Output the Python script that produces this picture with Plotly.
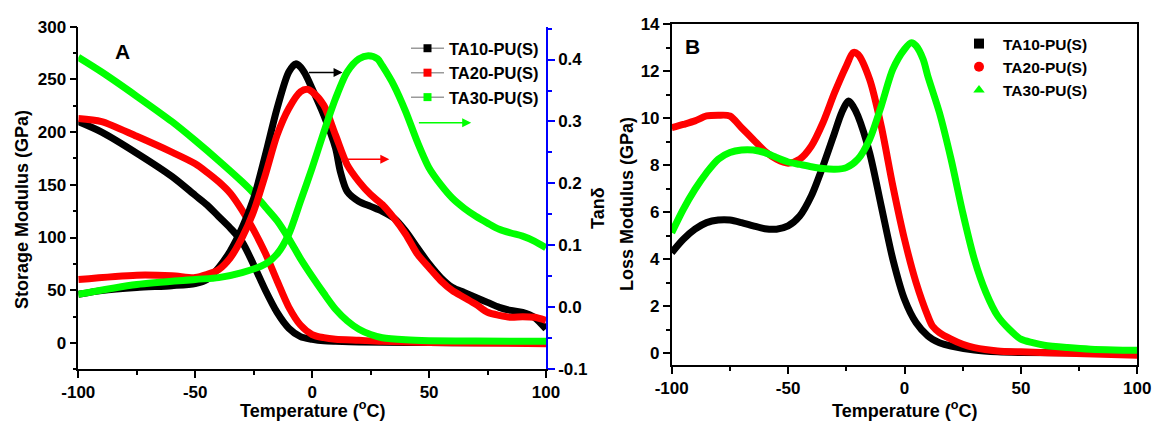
import plotly.graph_objects as go

W, H = 1153, 421

# ---------------- Data: panel A (storage modulus, left axis) ----------------
names = ["TA10-PU(S)", "TA20-PU(S)", "TA30-PU(S)"]
colors = ["#000000", "#ff0000", "#00ff00"]

ta10_sm_T = [-100, -90, -75, -60, -50, -45, -40, -35, -30, -25, -20, -15, -10, -5, 0, 5, 10, 20, 40, 60, 80, 100]
ta10_sm = [210, 200, 180, 158, 140, 131, 120, 109, 96, 74, 50, 29, 14, 6, 3.5, 2, 1.5, 1, 0.5, 0.3, 0.2, 0.2]

ta20_sm_T = [-100, -90, -75, -60, -50, -45, -40, -35, -30, -25, -20, -15, -10, -5, 0, 5, 10, 20, 30, 50, 70, 100]
ta20_sm = [213, 210, 196, 181, 170, 162, 153, 142, 126, 107, 85, 59, 34, 17, 8, 5, 3.5, 2.5, 1.5, 0.5, 0, -0.8]

ta30_sm_T = [-100, -90, -75, -60, -50, -40, -30, -25, -20, -15, -10, -5, 0, 5, 10, 15, 20, 25, 30, 40, 50, 70, 100]
ta30_sm = [271, 257, 234, 210, 192, 173, 153, 142, 129, 116, 99, 80, 63, 47, 32, 21, 13, 8, 5, 3, 2.2, 1.8, 1.5]

# ---------------- Data: panel A (tan delta, right axis) ----------------
ta10_td_T = [-100, -90, -75, -60, -50, -45, -40, -35, -30, -25, -20, -15, -10, -7, -5, -3, 0, 5, 10, 12, 15, 20, 25, 30, 35,
             40, 45, 50, 55, 60, 65, 70, 75, 80, 85, 90, 95, 100]
ta10_td = [0.021, 0.027, 0.032, 0.035, 0.0385, 0.045, 0.064, 0.091, 0.128, 0.176, 0.246, 0.321, 0.380, 0.393, 0.388, 0.377,
           0.353, 0.310, 0.257, 0.220, 0.187, 0.171, 0.163, 0.155, 0.144, 0.123, 0.096, 0.070, 0.048, 0.032, 0.024,
           0.016, 0.008, 0.0, -0.005, -0.008, -0.016, -0.035]

ta20_td_T = [-100, -75, -60, -50, -45, -40, -35, -30, -25, -20, -15, -10, -5, -2, 0, 5, 10, 15, 20, 25, 30, 35, 40, 45,
             50, 55, 60, 65, 70, 75, 80, 85, 90, 95, 100]
ta20_td = [0.045, 0.052, 0.051, 0.048, 0.053, 0.061, 0.080, 0.112, 0.155, 0.214, 0.278, 0.321, 0.348, 0.352, 0.348,
           0.326, 0.278, 0.230, 0.203, 0.182, 0.166, 0.144, 0.118, 0.086, 0.064, 0.043, 0.027, 0.016, 0.005, -0.008,
           -0.013, -0.016, -0.015, -0.016, -0.021]

ta30_td_T = [-100, -75, -50, -40, -30, -20, -15, -10, -5, 0, 5, 10, 15, 20, 24, 28, 30, 35, 40, 45, 50, 55, 60, 65, 70,
             75, 80, 85, 90, 95, 100]
ta30_td = [0.021, 0.037, 0.045, 0.048, 0.056, 0.070, 0.086, 0.118, 0.171, 0.225, 0.283, 0.337, 0.380, 0.401, 0.406,
           0.401, 0.390, 0.358, 0.316, 0.267, 0.225, 0.198, 0.176, 0.160, 0.147, 0.136, 0.126, 0.120, 0.115, 0.107,
           0.096]

# ---------------- Data: panel B (loss modulus) ----------------
ta10_lm_T = [-100, -95, -90, -85, -80, -75, -70, -65, -60, -55, -50, -45, -40, -35, -30, -27, -24, -22, -20, -15, -10,
             -5, 0, 5, 10, 12, 15, 20, 30, 40, 50, 100]
ta10_lm = [4.28, 4.85, 5.28, 5.56, 5.67, 5.67, 5.56, 5.42, 5.30, 5.28, 5.42, 5.84, 6.70, 7.97, 9.39, 10.24, 10.74, 10.5,
           10.1, 8.54, 6.27, 4.0, 2.3, 1.3, 0.74, 0.6, 0.45, 0.31, 0.14, 0.06, 0.03, 0.0]

ta20_lm_T = [-100, -95, -90, -85, -80, -75, -70, -65, -60, -55, -50, -45, -40, -35, -30, -25, -22, -20, -15, -10, -5, 0,
             5, 10, 12, 15, 20, 25, 30, 40, 50, 70, 100]
ta20_lm = [9.6, 9.74, 9.89, 10.1, 10.13, 10.1, 9.6, 9.1, 8.6, 8.26, 8.09, 8.26, 8.82, 9.82, 11.1, 12.23, 12.8, 12.72,
           11.66, 9.67, 7.12, 4.85, 3.0, 1.59, 1.16, 0.88, 0.6, 0.38, 0.24, 0.1, 0.06, 0.0, -0.08]

ta30_lm_T = [-100, -95, -90, -85, -80, -75, -70, -65, -60, -55, -50, -45, -40, -35, -30, -25, -20, -15, -10, -5, 0, 3,
             5, 8, 10, 15, 20, 25, 30, 35, 40, 45, 50, 55, 60, 70, 80, 90, 100]
ta30_lm = [5.13, 6.13, 6.98, 7.69, 8.26, 8.54, 8.65, 8.65, 8.54, 8.33, 8.14, 8.04, 7.94, 7.86, 7.83, 7.9, 8.26, 9.1,
           10.52, 12.09, 12.94, 13.22, 13.08, 12.51, 11.8, 10.24, 8.26, 5.99, 4.0, 2.58, 1.59, 1.02, 0.6, 0.45, 0.34,
           0.24, 0.17, 0.14, 0.13]

# ---------------- Ticks ----------------
x_ticks = [-100, -50, 0, 50, 100]
x_ticktext = ["-100", "-50", "0", "50", "100"]
sm_ticks = [0, 50, 100, 150, 200, 250, 300]
td_ticks = [-0.1, 0.0, 0.1, 0.2, 0.3, 0.4]
td_ticktext = ["-0.1", "0.0", "0.1", "0.2", "0.3", "0.4"]
lm_ticks = [0, 2, 4, 6, 8, 10, 12, 14]

# arrows in panel A: (tail T, head T, tanδ level)
arrows = [(-2, 13, 0.379, "#000000"), (14, 33, 0.239, "#ff0000"), (45, 68, 0.298, "#00ff00")]


def px(x):
    return x / W


def py(y):
    return 1 - y / H


FONT = "Liberation Sans, Arial, sans-serif"
tickfont = dict(family=FONT, size=17, color="black", weight="bold")
LW = 7

fig = go.Figure()

sm = [(ta10_sm_T, ta10_sm), (ta20_sm_T, ta20_sm), (ta30_sm_T, ta30_sm)]
td = [(ta10_td_T, ta10_td), (ta20_td_T, ta20_td), (ta30_td_T, ta30_td)]
lm = [(ta10_lm_T, ta10_lm), (ta20_lm_T, ta20_lm), (ta30_lm_T, ta30_lm)]

for i in range(3):
    fig.add_trace(go.Scatter(x=sm[i][0], y=sm[i][1], mode="lines", xaxis="x", yaxis="y",
                             line=dict(color=colors[i], width=LW, shape="spline", smoothing=0.8),
                             showlegend=False, name=names[i]))
for i in range(3):
    fig.add_trace(go.Scatter(x=td[i][0], y=td[i][1], mode="lines", xaxis="x", yaxis="y2",
                             line=dict(color=colors[i], width=LW, shape="spline", smoothing=0.8),
                             showlegend=False, name=names[i]))
# legend proxies for panel A
for i in range(3):
    fig.add_trace(go.Scatter(x=[None], y=[None], mode="lines+markers", xaxis="x", yaxis="y",
                             line=dict(color="#9a9a9a", width=1.5),
                             marker=dict(symbol="square", size=8, color=colors[i]),
                             name=names[i], legend="legend"))

symbols_b = ["square", "circle", "triangle-up"]
for i in range(3):
    fig.add_trace(go.Scatter(x=lm[i][0], y=lm[i][1], mode="lines", xaxis="x2", yaxis="y3",
                             line=dict(color=colors[i], width=LW, shape="spline", smoothing=0.8),
                             showlegend=False, name=names[i]))
for i in range(3):
    fig.add_trace(go.Scatter(x=[None], y=[None], mode="markers", xaxis="x2", yaxis="y3",
                             marker=dict(symbol=symbols_b[i], size=10, color=colors[i]),
                             name=names[i], legend="legend2"))

dom_ax = [px(78.3), px(546)]
dom_ay = [py(369.3), py(26.7)]
dom_bx = [px(671.7), px(1137.3)]
dom_by = [py(365), py(24.3)]

common_x = dict(tickmode="array", tickvals=x_ticks, ticktext=x_ticktext, range=[-100, 100], automargin=False,
                showline=True, linecolor="black", linewidth=1.5, ticks="outside", ticklen=7, tickwidth=1.5,
                tickcolor="black", tickfont=tickfont, showgrid=False, zeroline=False,
                minor=dict(dtick=25, tick0=0, ticks="outside", ticklen=4, tickwidth=1.5, tickcolor="black",
                           showgrid=False))

fig.update_layout(
    width=W, height=H,
    margin=dict(l=0, r=0, t=0, b=0, autoexpand=False),
    paper_bgcolor="white", plot_bgcolor="white",
    font=dict(family=FONT, color="black"),
    xaxis=dict(domain=dom_ax, anchor="y", **common_x),
    xaxis3=dict(domain=dom_ax, anchor="y", overlaying="x", side="top", range=[-100, 100], automargin=False,
                showline=True, linecolor="black", linewidth=1.5, ticks="inside", ticklen=6, tickwidth=1.5,
                tickcolor="black", dtick=25, tick0=0, showticklabels=False, showgrid=False, zeroline=False),
    yaxis=dict(domain=dom_ay, anchor="x", range=[-25, 300], tickmode="array", tickvals=sm_ticks, automargin=False,
               showline=True, linecolor="black", linewidth=1.5, ticks="outside", ticklen=7, tickwidth=1.5,
               tickcolor="black", tickfont=tickfont, showgrid=False, zeroline=False,
               minor=dict(dtick=25, tick0=0, ticks="outside", ticklen=4, tickwidth=1.5, tickcolor="black",
                          showgrid=False)),
    yaxis2=dict(anchor="x", overlaying="y", side="right", range=[-0.1, 0.453], tickmode="array",
                tickvals=td_ticks, ticktext=td_ticktext, automargin=False,
                showline=True, linecolor="#0000ff", linewidth=1.5, ticks="outside", ticklen=7, tickwidth=1.5,
                tickcolor="#0000ff", tickfont=tickfont, showgrid=False, zeroline=False,
                minor=dict(dtick=0.05, tick0=0, ticks="outside", ticklen=4, tickwidth=1.5, tickcolor="#0000ff",
                           showgrid=False)),
    xaxis2=dict(domain=dom_bx, anchor="y3", mirror=True, **common_x),
    yaxis3=dict(domain=dom_by, anchor="x2", range=[-0.5, 14], tickmode="array", tickvals=lm_ticks,
                automargin=False,
                showline=True, mirror=True, linecolor="black", linewidth=1.5, ticks="outside", ticklen=7,
                tickwidth=1.5, tickcolor="black", tickfont=tickfont, showgrid=False, zeroline=False,
                minor=dict(dtick=1, tick0=0, ticks="outside", ticklen=4, tickwidth=1.5, tickcolor="black",
                           showgrid=False)),
    legend=dict(x=px(406), y=py(31), xanchor="left", yanchor="top", bgcolor="rgba(0,0,0,0)",
                font=dict(family=FONT, size=16.5, color="black", weight="bold"), tracegroupgap=0,
                itemwidth=33),
    legend2=dict(x=px(955), y=py(27), xanchor="left", yanchor="top", bgcolor="rgba(0,0,0,0)",
                 font=dict(family=FONT, size=15.5, color="black", weight="bold"), tracegroupgap=0,
                 itemwidth=38),
)

title_font = dict(family=FONT, size=18, color="black", weight="bold")
ann = [
    dict(text="Temperature (<sup>o</sup>C)", x=px(312), y=0, xref="paper", yref="paper",
         showarrow=False, font=title_font, xanchor="center", yanchor="bottom", yshift=-2),
    dict(text="Storage Modulus (GPa)", x=px(22), y=py(210), xref="paper", yref="paper", textangle=-90,
         showarrow=False, font=title_font, xanchor="center", yanchor="middle"),
    dict(text="Tanδ", x=px(598), y=py(208), xref="paper", yref="paper", textangle=-90,
         showarrow=False, font=title_font, xanchor="center", yanchor="middle"),
    dict(text="Temperature (<sup>o</sup>C)", x=px(904), y=0, xref="paper", yref="paper",
         showarrow=False, font=title_font, xanchor="center", yanchor="bottom", yshift=-2),
    dict(text="Loss Modulus (GPa)", x=px(627), y=py(204), xref="paper", yref="paper", textangle=-90,
         showarrow=False, font=title_font, xanchor="center", yanchor="middle"),
    dict(text="A", x=px(122), y=py(52), xref="paper", yref="paper", showarrow=False,
         font=dict(family=FONT, size=21, color="black", weight="bold"), xanchor="center", yanchor="middle"),
    dict(text="B", x=px(692), y=py(46), xref="paper", yref="paper", showarrow=False,
         font=dict(family=FONT, size=21, color="black", weight="bold"), xanchor="center", yanchor="middle"),
]
for t0, t1, lev, c in arrows:
    ann.append(dict(x=t1, y=lev, ax=t0, ay=lev, xref="x", yref="y2", axref="x", ayref="y2", text="",
                    showarrow=True, arrowhead=2, arrowsize=1.2, arrowwidth=1.5, arrowcolor=c))
fig.update_layout(annotations=ann)

fig.write_html("out.html", config={"displayModeBar": False},
               post_script="document.body.style.margin='0';document.body.style.overflow='hidden';")
